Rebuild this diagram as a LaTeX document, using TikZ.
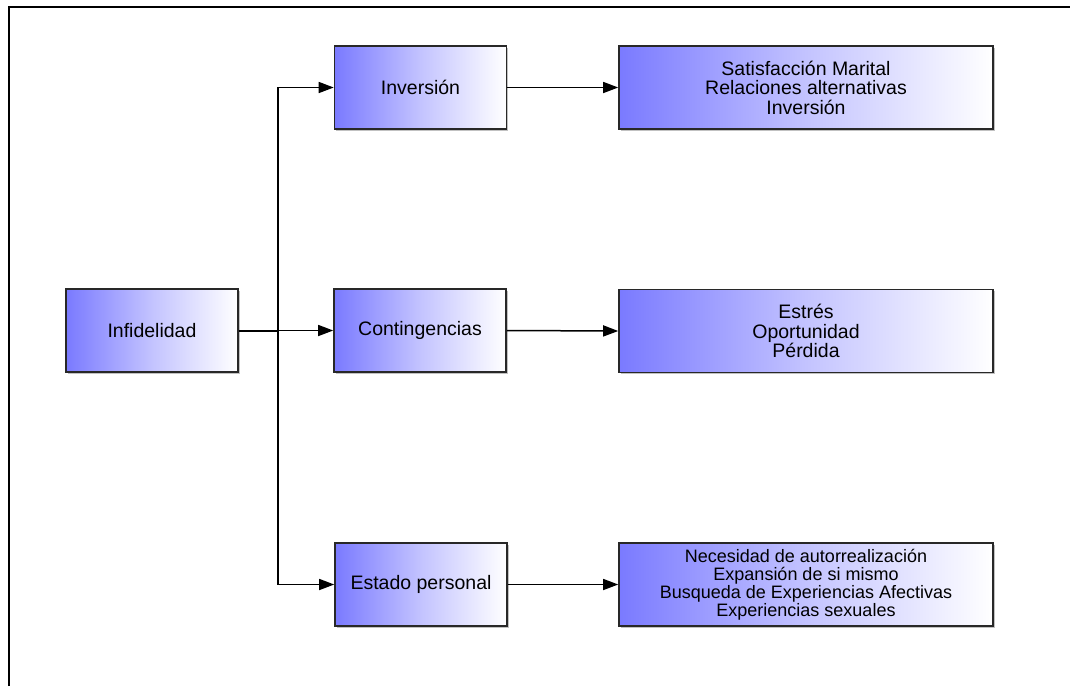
\documentclass[tikz,border=0pt]{standalone}
\usepackage{fontspec}
\setmainfont{Liberation Sans}
\usetikzlibrary{arrows.meta,shadows}
\definecolor{boxblue}{RGB}{122,122,255}
\definecolor{boxedge}{RGB}{40,40,40}
\tikzset{
  box/.style={draw=boxedge, line width=1.6pt, left color=boxblue, right color=white,
    middle color=boxblue!45!white, shading angle=90,
    minimum height=83pt, inner sep=0pt, align=center,
    font=\fontsize{19.5}{19.5}\selectfont,
    drop shadow={shadow xshift=1.5pt, shadow yshift=-1.5pt, fill=black!40, opacity=0.6}},
  smallbox/.style={box, minimum width=172pt},
  widebox/.style={box, minimum width=374pt},
  conn/.style={draw=black, line width=1.5pt, -{Triangle[length=15pt,width=11pt]}},
  frame/.style={draw=black, line width=2.5pt}
}
\begin{document}
\begin{tikzpicture}[x=1pt,y=-1pt]
\useasboundingbox (0,0) rectangle (1070,686);
\fill[white] (0,0) rectangle (1070,686);
\draw[frame] (9,686) -- (9,7) -- (1070,7);

\node[smallbox] (inf) at (152,330.5) {Infidelidad};
\node[smallbox] (inv) at (420.5,87.5) {Inversión};
\node[smallbox] (con) at (420,330.5) {Contingencias};
\node[smallbox] (est) at (421,584.5) {Estado personal};
\node[widebox] (sat) at (806,87.5) {Satisfacción Marital\\Relaciones alternativas\\Inversión};
\node[widebox] (str) at (806,331) {Estrés\\Oportunidad\\Pérdida};
\node[widebox, font=\fontsize{18}{18}\selectfont] (nec) at (806,584.5) {Necesidad de autorrealización\\Expansión de si mismo\\Busqueda de Experiencias Afectivas\\Experiencias sexuales};

\coordinate (j) at (278,330.5);
\draw[line width=2pt] (inf.east) -- (j);
\draw[conn] (j) |- (inv.west);
\draw[conn] (j) -- (con.west);
\draw[conn] (j) |- (est.west);
\draw[conn] (inv.east) -- (sat.west);
\draw[conn] (con.east) -- (str.west);
\draw[conn] (est.east) -- (nec.west);
\end{tikzpicture}
\end{document}
